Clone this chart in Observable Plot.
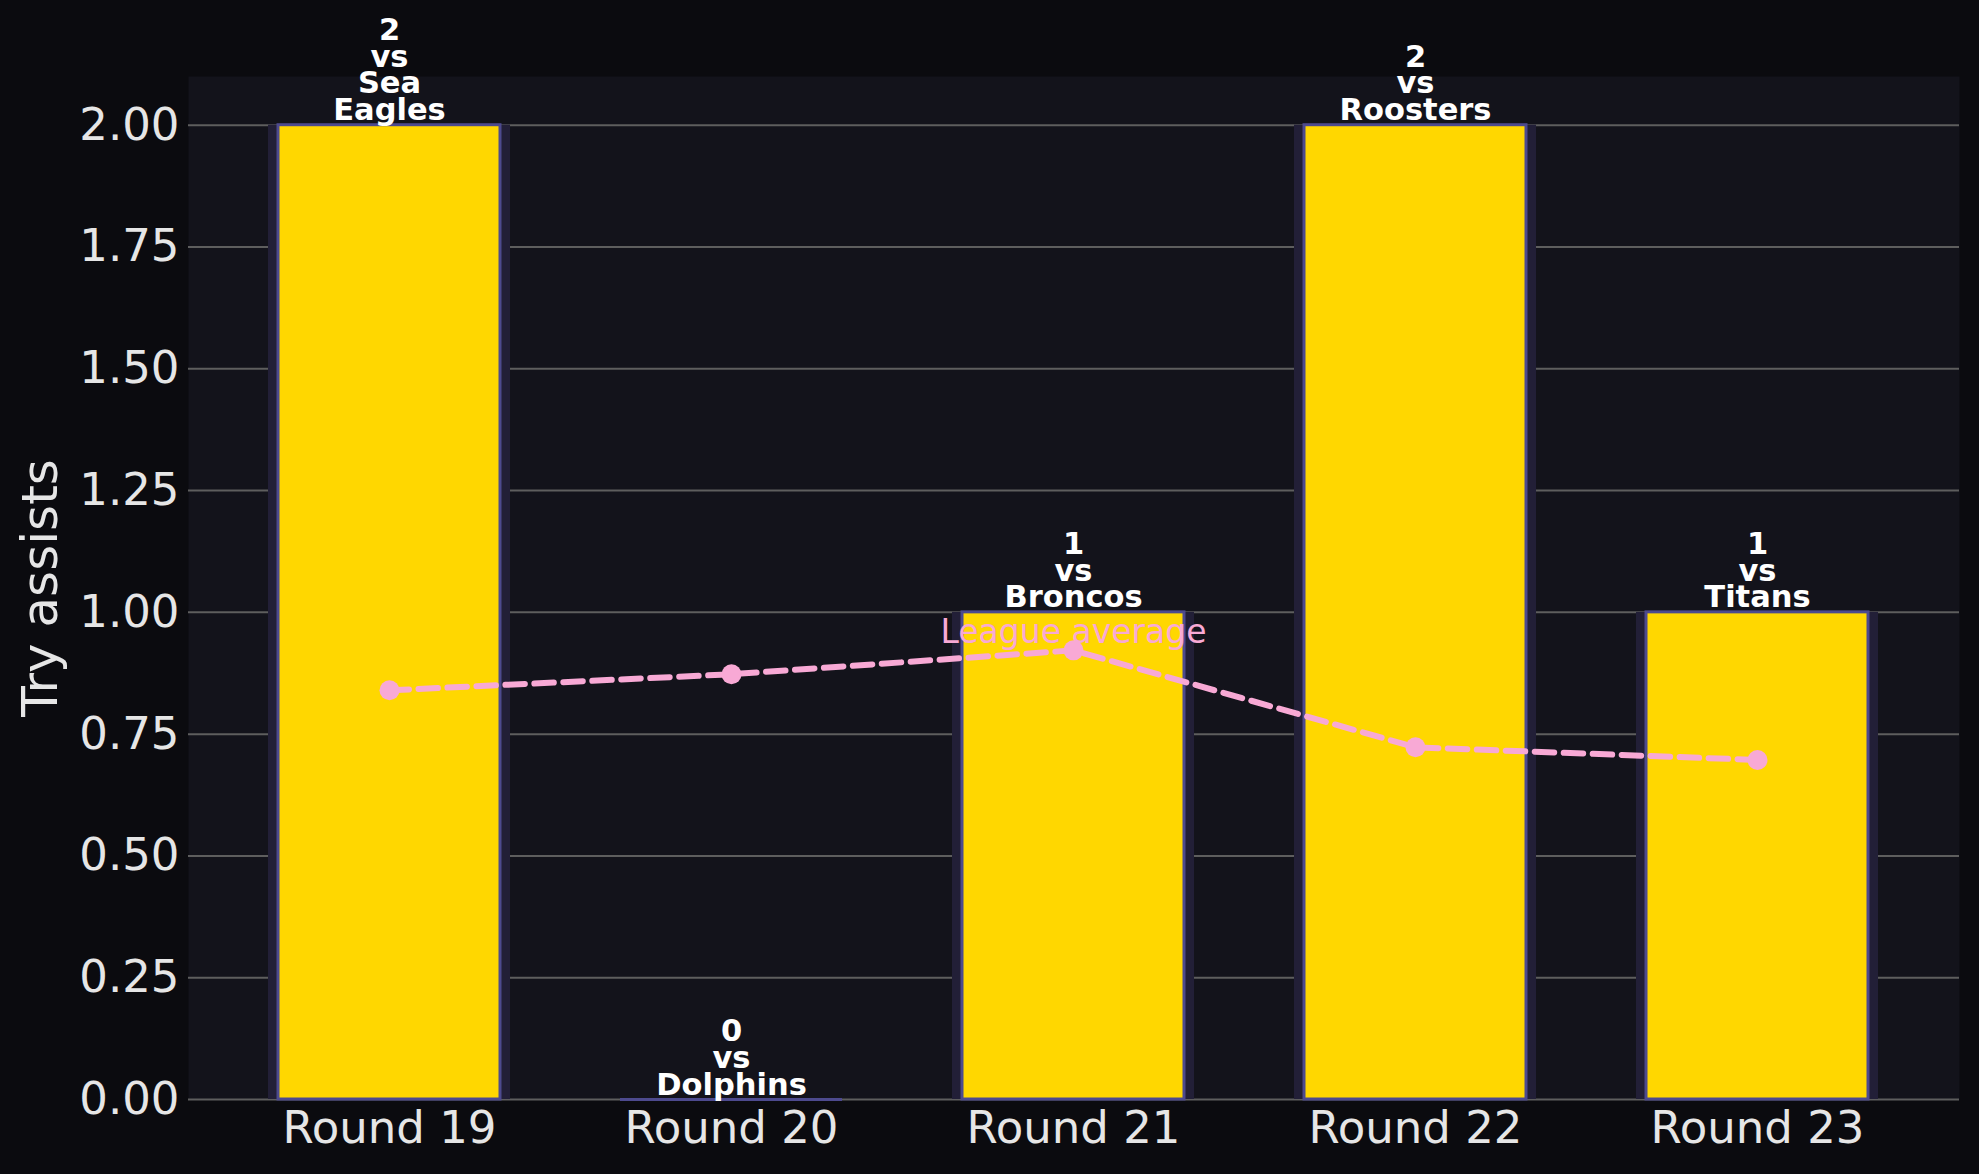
<!DOCTYPE html>
<html>
<head>
<meta charset="utf-8">
<script src="https://cdn.jsdelivr.net/npm/d3@7"></script>
<script src="https://cdn.jsdelivr.net/npm/@observablehq/plot@0.6"></script>
<style>
  html, body { margin: 0; padding: 0; background: #0b0b0f; }
  #chart svg { display: block; }
</style>
</head>
<body>
<div id="chart"></div>
<script>
const rounds = ["Round 19", "Round 20", "Round 21", "Round 22", "Round 23"];
const assists = [2, 0, 1, 2, 1];
const opponents = ["Sea Eagles", "Dolphins", "Broncos", "Roosters", "Titans"];
const leagueAvg = [0.84, 0.873, 0.922, 0.723, 0.697];
const yTicks = [0, 0.25, 0.5, 0.75, 1.0, 1.25, 1.5, 1.75, 2.0];

const data = rounds.map((r, i) => ({
  round: r,
  assists: assists[i],
  opp: opponents[i],
  avg: leagueAvg[i],
  label: `${assists[i]}\nvs\n${opponents[i].replace(" ", "\n")}`
}));

const font = "DejaVu Sans, sans-serif";

const chart = Plot.plot({
  width: 1979,
  height: 1174,
  marginTop: 76,
  marginBottom: 75,
  marginLeft: 188,
  marginRight: 20,
  style: { background: "#0b0b0f", fontFamily: font, color: "#e6e6e6", overflow: "visible" },
  x: { domain: rounds, paddingInner: 0.35, paddingOuter: 0.26, label: null },
  y: { domain: [0, 2.1], label: null },
  marks: [
    Plot.frame({ fill: "#13131b", stroke: null }),
    Plot.gridY(yTicks, { stroke: "#5e5e5e", strokeOpacity: 1, strokeWidth: 2 }),
    Plot.axisY({ ticks: yTicks, tickFormat: d3.format(".2f"), tickSize: 0, tickPadding: 9, fontSize: 45, fill: "#e6e6e6", label: null }),
    Plot.axisX({ tickSize: 0, tickPadding: 12, fontSize: 45, fill: "#e6e6e6", label: null }),
    Plot.text(["Try assists"], { frameAnchor: "left", textAnchor: "middle", rotate: -90, dx: -148, fontSize: 50, fill: "#e6e6e6" }),
    Plot.barY(data, { x: "round", y: "assists", fill: "#221f37", insetLeft: -10, insetRight: -10 }),
    Plot.barY(data, { x: "round", y: "assists", fill: "#FFD700", stroke: "#4d4a8e", strokeWidth: 3 }),
    Plot.tickY(data.filter(d => d.assists === 0), { x: "round", y: "assists", stroke: "#4d4a8e", strokeWidth: 3 }),
    Plot.line(data, { x: "round", y: "avg", stroke: "#f8a9d5", strokeWidth: 6, strokeDasharray: "19.5,9.5" }),
    Plot.dot(data, { x: "round", y: "avg", r: 10, fill: "#f8a9d5", stroke: null }),
    Plot.text(data.filter(d => d.round === "Round 21"), { x: "round", y: "avg", text: () => "League average", lineAnchor: "bottom", dy: -7, fontSize: 33, fill: "#f8a9d5" }),
    Plot.text(data, { x: "round", y: "assists", text: "label", lineAnchor: "bottom", lineHeight: 0.88, dy: -5, fontSize: 30.5, fontWeight: "bold", fill: "#ffffff" })
  ]
});

document.getElementById("chart").appendChild(chart);
</script>
</body>
</html>
